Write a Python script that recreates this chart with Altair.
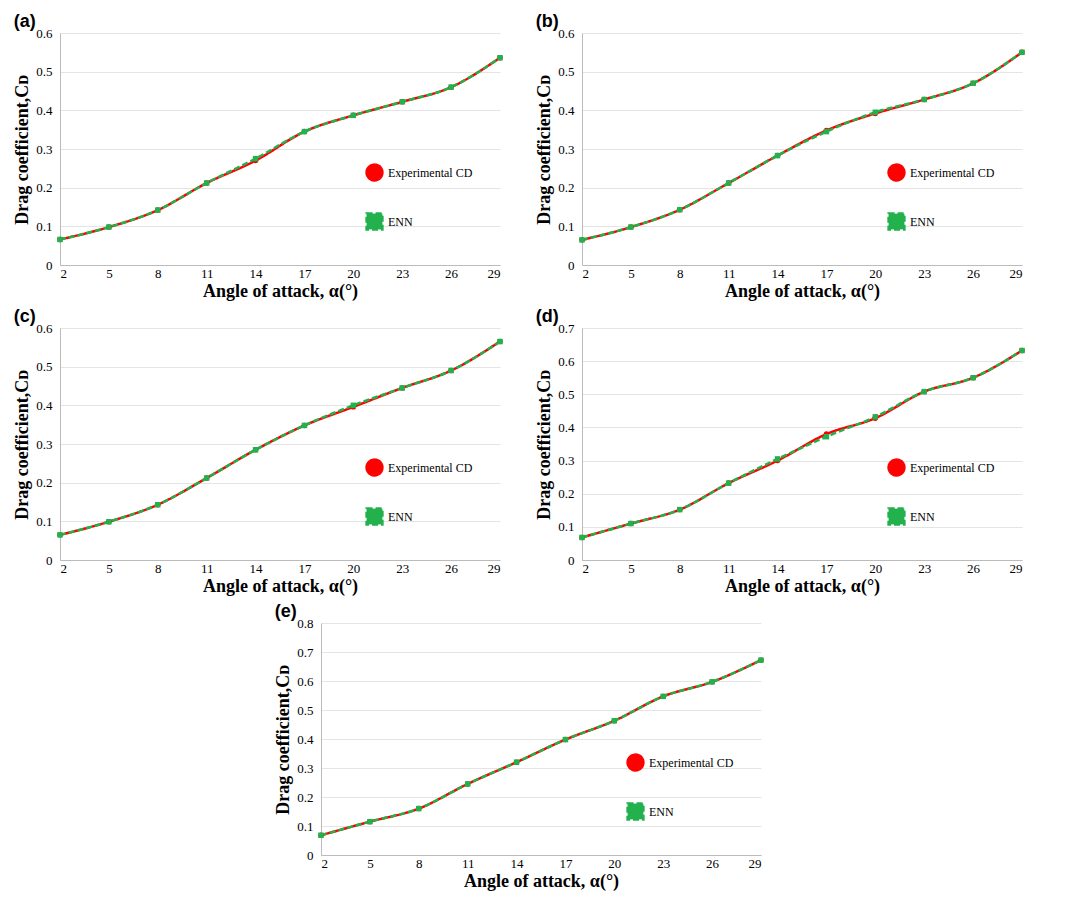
import pandas as pd
import altair as alt

angles = [2, 5, 8, 11, 14, 17, 20, 23, 26, 29]

exp_a = [0.066, 0.098, 0.142, 0.212, 0.270, 0.345, 0.387, 0.422, 0.460, 0.536]
enn_a = [0.066, 0.098, 0.142, 0.212, 0.275, 0.345, 0.387, 0.422, 0.460, 0.536]
exp_b = [0.065, 0.098, 0.143, 0.212, 0.283, 0.348, 0.392, 0.428, 0.470, 0.550]
enn_b = [0.065, 0.098, 0.143, 0.212, 0.283, 0.345, 0.395, 0.428, 0.470, 0.550]
exp_c = [0.065, 0.099, 0.143, 0.212, 0.285, 0.348, 0.396, 0.445, 0.490, 0.565]
enn_c = [0.065, 0.099, 0.143, 0.212, 0.285, 0.348, 0.400, 0.445, 0.490, 0.565]
exp_d = [0.068, 0.110, 0.152, 0.232, 0.300, 0.380, 0.428, 0.508, 0.550, 0.632]
enn_d = [0.068, 0.110, 0.152, 0.232, 0.305, 0.372, 0.432, 0.508, 0.550, 0.632]
exp_e = [0.068, 0.115, 0.160, 0.245, 0.320, 0.398, 0.463, 0.547, 0.597, 0.672]
enn_e = [0.068, 0.115, 0.160, 0.245, 0.320, 0.398, 0.463, 0.547, 0.597, 0.672]

series_names = ["Experimental CD", "ENN"]
FONT = "Liberation Serif"


def panel(label, exp, enn, ymax):
    df = pd.DataFrame({
        "angle": angles * 2,
        "cd": exp + enn,
        "series": [series_names[0]] * len(angles) + [series_names[1]] * len(angles),
    })
    ticks = [round(i * 0.1, 1) for i in range(int(round(ymax * 10)) + 1)]
    return alt.Chart(df).mark_line(
        interpolate="monotone", strokeWidth=2.5,
        point=alt.OverlayMarkDef(size=30, filled=True),
    ).encode(
        x=alt.X("angle:Q", scale=alt.Scale(domain=[2, 29], nice=False),
                axis=alt.Axis(values=angles, grid=False, title="Angle of attack, α(°)",
                              titleFontSize=18, titleFont=FONT, titleFontWeight="bold",
                              labelFont=FONT, labelFontSize=13, tickSize=0,
                              domainColor="#bbbbbb", labelColor="black", titlePadding=2)),
        y=alt.Y("cd:Q", scale=alt.Scale(domain=[0, ymax], nice=False),
                axis=alt.Axis(values=ticks, title="Drag coefficient,Cᴅ", titleFontSize=18,
                              titleFont=FONT, titleFontWeight="bold", labelFont=FONT,
                              labelExpr="datum.value == 0 ? '0' : format(datum.value, '.1f')",
                              labelFontSize=13, tickSize=0, gridColor="#e4e4e4",
                              domainColor="#bbbbbb", labelColor="black", labelPadding=8)),
        color=alt.Color("series:N", scale=alt.Scale(domain=series_names, range=["#ff0000", "#22b14c"]),
                        legend=alt.Legend(title=None, orient="none", legendX=305, legendY=130,
                                          labelFont=FONT, labelFontSize=12, rowPadding=22,
                                          symbolType="stroke", symbolStrokeWidth=2.5,
                                          symbolSize=250)),
        shape=alt.Shape("series:N", scale=alt.Scale(domain=series_names, range=["circle", "square"]),
                        legend=None),
        strokeDash=alt.StrokeDash("series:N", scale=alt.Scale(domain=series_names, range=[[1, 0], [6, 3]])),
        order=alt.Order("angle:Q"),
    ).properties(
        width=440, height=232,
        title=alt.TitleParams(label, anchor="start", frame="bounds", font="Liberation Sans",
                              fontSize=18, fontWeight="bold", offset=-4),
    )


def row(*charts):
    return alt.hconcat(*charts, spacing=30).resolve_scale(
        color="independent", shape="independent", strokeDash="independent")


row1 = row(panel("(a)", exp_a, enn_a, 0.6), panel("(b)", exp_b, enn_b, 0.6))
row2 = row(panel("(c)", exp_c, enn_c, 0.6), panel("(d)", exp_d, enn_d, 0.7))
row3 = panel("(e)", exp_e, enn_e, 0.8)

chart = alt.vconcat(row1, row2, row3, spacing=8, center=True).resolve_scale(
    color="independent", shape="independent", strokeDash="independent"
).configure_view(stroke=None)

chart.save("out.html", embed_options={"renderer": "svg", "actions": False})
